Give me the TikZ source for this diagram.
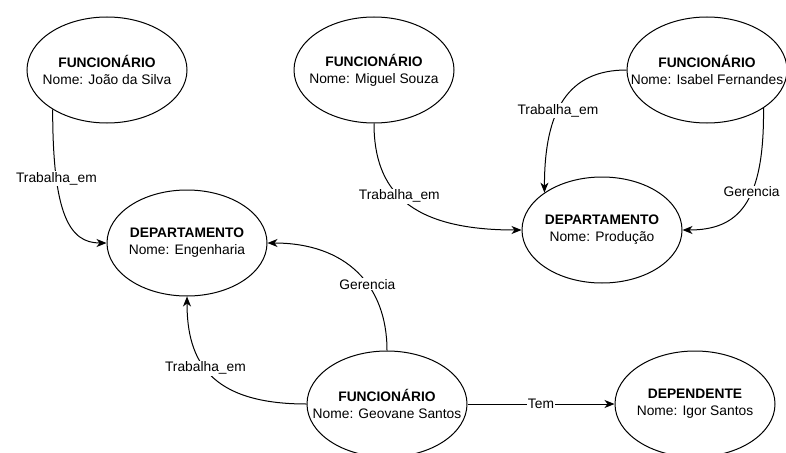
\documentclass[tikz,border=0pt]{standalone}
\usepackage{fontspec}
\setmainfont{Liberation Sans}
\usetikzlibrary{arrows.meta,shapes.geometric}
\begin{document}
\begin{tikzpicture}[x=1pt,y=-1pt,
  entity/.style={ellipse, draw, line width=1pt, fill=white,
    minimum width=160pt, minimum height=106pt, inner sep=0pt},
  enttext/.style={align=center, inner sep=0pt, font=\fontsize{13.8}{17}\selectfont},
  rel/.style={draw, line width=1pt,
    -{Stealth[length=10pt,width=8pt,inset=3pt]}},
  lbl/.style={fill=white, inner sep=1pt, font=\fontsize{13.8}{17}\selectfont}]
\useasboundingbox (0,0) rectangle (786,452);

% entities: fixed-size ellipses with their text set on top
\node[entity, label={[enttext]center:\textbf{FUNCIONÁRIO}\\Nome: João da Silva}]      (joao)   at (107,70)  {};
\node[entity, label={[enttext]center:\textbf{FUNCIONÁRIO}\\Nome: Miguel Souza}]       (miguel) at (374,70)  {};
\node[entity, label={[enttext]center:\textbf{FUNCIONÁRIO}\\Nome: Isabel Fernandes}]   (isabel) at (707,70)  {};
\node[entity, label={[enttext]center:\textbf{DEPARTAMENTO}\\Nome: Produção}]          (prod)   at (602,230) {};
\node[entity, label={[enttext]center:\textbf{DEPARTAMENTO}\\Nome: Engenharia}]        (eng)    at (187,243) {};
\node[entity, label={[enttext]center:\textbf{FUNCIONÁRIO}\\Nome: Geovane Santos}]     (geo)    at (387,404) {};
\node[entity, label={[enttext]center:\textbf{DEPENDENTE}\\Nome: Igor Santos}]         (igor)   at (695,404) {};

% relationships
\draw[rel] (joao.216) .. controls +(0,105) and +(-37,0) .. (eng.west)
  node[lbl,pos=0.27] {Trabalha\_em};
\draw[rel] (miguel.south) .. controls +(0,67) and +(-112,0) .. (prod.west)
  node[lbl,pos=0.45] {Trabalha\_em};
\draw[rel] (isabel.west) .. controls +(-58,0) and +(0,-83) .. (prod.147)
  node[lbl,pos=0.58] {Trabalha\_em};
\draw[rel] (isabel.-34) .. controls +(1,95) and +(56,0) .. (prod.east)
  node[lbl,pos=0.4] {Gerencia};
\draw[rel] (geo.north) .. controls +(0,-66) and +(78,0) .. (eng.east)
  node[lbl,pos=0.4] {Gerencia};
\draw[rel] (geo.west) .. controls +(-97,0) and +(0,64) .. (eng.south)
  node[lbl,pos=0.55] {Trabalha\_em};
\draw[rel] (geo) -- (igor) node[lbl,midway] {Tem};
\end{tikzpicture}
\end{document}
